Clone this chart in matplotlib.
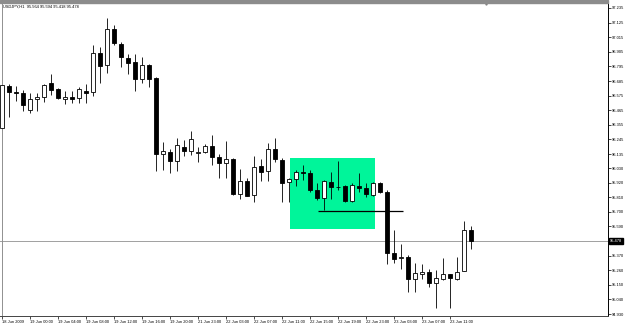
import matplotlib
matplotlib.use('Agg')
import matplotlib.pyplot as plt
import matplotlib.transforms as mtrans
from matplotlib.patches import Rectangle
import numpy as np

plt.rcParams['font.family'] = ['Liberation Sans', 'DejaVu Sans']

# USDJPY H1 candles, 18 Jun 2009 20:00 .. 23 Jun 2009 14:00
opens = [96.331, 96.650, 96.605, 96.597, 96.467, 96.548, 96.563, 96.668, 96.623, 96.552,
         96.563, 96.555, 96.612, 96.605, 96.894, 96.804, 97.075, 96.964, 96.861, 96.828,
         96.698, 96.804, 96.706, 96.136, 96.153, 96.085, 96.191, 96.161, 96.143, 96.148,
         96.198, 96.111, 96.070, 96.096, 95.832, 95.932, 95.827, 96.045, 96.008, 96.171,
         96.090, 95.925, 95.945, 96.000, 95.990, 95.865, 95.802, 95.927, 95.889, 95.895,
         95.784, 95.897, 95.882, 95.827, 95.915, 95.849, 95.392, 95.350, 95.362, 95.192,
         95.234, 95.245, 95.162, 95.192, 95.230, 95.192, 95.252, 95.564]
highs = [96.665, 96.663, 96.648, 96.618, 96.593, 96.597, 96.663, 96.736, 96.635, 96.612,
         96.610, 96.642, 96.663, 96.956, 96.939, 97.157, 97.107, 96.979, 96.889, 96.889,
         96.864, 96.813, 96.718, 96.224, 96.171, 96.254, 96.241, 96.307, 96.191, 96.211,
         96.279, 96.136, 96.236, 96.106, 96.020, 95.953, 96.121, 96.100, 96.216, 96.254,
         96.105, 95.955, 96.015, 96.053, 96.015, 95.917, 95.940, 96.002, 96.085, 95.902,
         95.917, 95.995, 95.920, 95.927, 95.927, 95.865, 95.563, 95.458, 95.375, 95.317,
         95.307, 95.270, 95.262, 95.350, 95.232, 95.362, 95.630, 95.594]
lows = [96.320, 96.416, 96.537, 96.462, 96.442, 96.462, 96.529, 96.580, 96.550, 96.510,
        96.522, 96.522, 96.517, 96.572, 96.673, 96.748, 96.956, 96.788, 96.736, 96.612,
        96.668, 96.642, 96.008, 96.015, 95.990, 96.008, 96.121, 96.128, 96.073, 96.143,
        96.053, 95.953, 95.957, 95.828, 95.797, 95.819, 95.777, 95.932, 95.932, 96.075,
        95.777, 95.777, 95.897, 95.940, 95.850, 95.789, 95.714, 95.795, 95.865, 95.774,
        95.774, 95.852, 95.814, 95.819, 95.840, 95.307, 95.317, 95.267, 95.099, 95.099,
        95.192, 95.136, 94.974, 95.187, 94.974, 95.187, 95.252, 95.418]
closes = [96.655, 96.605, 96.595, 96.505, 96.548, 96.567, 96.657, 96.618, 96.555, 96.567,
          96.552, 96.623, 96.597, 96.898, 96.798, 97.075, 96.969, 96.864, 96.819, 96.700,
          96.804, 96.703, 96.139, 96.158, 96.085, 96.203, 96.161, 96.246, 96.153, 96.196,
          96.111, 96.066, 96.096, 95.832, 95.932, 95.822, 96.040, 96.002, 96.173, 96.096,
          95.920, 95.945, 96.000, 95.990, 95.865, 95.802, 95.935, 95.889, 95.885, 95.784,
          95.902, 95.882, 95.832, 95.915, 95.852, 95.392, 95.347, 95.358, 95.192, 95.237,
          95.249, 95.162, 95.200, 95.230, 95.200, 95.249, 95.560, 95.478]

tick_bars = list(range(0, 68, 4))
tick_labels = ['18 Jun 2009', '19 Jun 00:00', '19 Jun 04:00', '19 Jun 08:00', '19 Jun 12:00',
               '19 Jun 16:00', '19 Jun 20:00', '21 Jun 23:00', '22 Jun 03:00', '22 Jun 07:00',
               '22 Jun 11:00', '22 Jun 15:00', '22 Jun 19:00', '22 Jun 23:00', '23 Jun 03:00',
               '23 Jun 07:00', '23 Jun 11:00']
price_ticks = [97.235, 97.125, 97.015, 96.905, 96.795, 96.685, 96.575, 96.465, 96.355,
               96.245, 96.135, 96.030, 95.920, 95.810, 95.700, 95.590, 95.370, 95.260,
               95.150, 95.040, 94.930]

current_price = 95.478
box_bars = (41.1, 53.3)
box_prices = (95.571, 96.103)
level_price = 95.706
level_bars = (45.2, 57.3)

o = np.array(opens); h = np.array(highs); l = np.array(lows); c = np.array(closes)
x = np.arange(len(o))
up = c >= o

fig = plt.figure(figsize=(6.25, 3.25), dpi=100)
ax = fig.add_axes([0, 9 / 325, 608 / 625, 313 / 325])

# highlighted zone
ax.add_patch(Rectangle((box_bars[0], box_prices[0]), box_bars[1] - box_bars[0],
                       box_prices[1] - box_prices[0], color='#00F59A', lw=0, zorder=1))
ax.axhline(current_price, color='#a0a0a0', lw=0.7, zorder=1.5)

# candles
ax.vlines(x, l, h, color='black', lw=0.6, zorder=2)
bottom = np.minimum(o, c)
height = np.maximum(np.abs(c - o), 0.005)
ax.bar(x[up], height[up], bottom=bottom[up], width=0.57, color='white',
       edgecolor='black', lw=0.6, zorder=3)
ax.bar(x[~up], height[~up], bottom=bottom[~up], width=0.57, color='black',
       edgecolor='black', lw=0.6, zorder=3)

ax.hlines(level_price, level_bars[0], level_bars[1], color='black', lw=0.9, zorder=4)

ax.set_xlim(-1.8 / 7, 606.2 / 7)
ax.set_ylim(97.235 - 308 / 132.8, 97.235 + 5 / 132.8)

ax.yaxis.tick_right()
ax.set_yticks(price_ticks, ['%.3f' % v for v in price_ticks])
ax.set_xticks(tick_bars, tick_labels)
for lbl in ax.get_xticklabels():
    lbl.set_ha('left')
ax.tick_params(axis='both', direction='out', length=2, width=0.5, labelsize=2.9,
               pad=1, colors='black')

for side in ['left', 'top']:
    ax.spines[side].set_visible(False)
ax.spines['right'].set_linewidth(0.7)
ax.spines['bottom'].set_linewidth(0.7)
ax.spines['bottom'].set_color('#444444')
ax.axvline(0, color='#909090', lw=0.7)

# title and price marker
ax.text(3 / 608, 1 - 3.5 / 313, 'USDJPY,H1  95.564 95.594 95.418 95.478',
        transform=ax.transAxes, fontsize=2.9, va='center', ha='left')
trans = mtrans.blended_transform_factory(ax.transAxes, ax.transData)
ax.text(1.003, current_price, '%.3f' % current_price, transform=trans, fontsize=2.9,
        color='white', va='center', ha='left',
        bbox=dict(boxstyle='square,pad=0.25', fc='black', ec='black'))

fig.patches.append(Rectangle((0, 1 - 2.7 / 325), 608 / 625, 2.7 / 325,
                             transform=fig.transFigure, color='#8c8c8c'))
ax.plot([69.2], [ax.get_ylim()[1]], marker='v', ms=2.5, color='#808080', clip_on=False)

fig.savefig('out.png', dpi=100)
